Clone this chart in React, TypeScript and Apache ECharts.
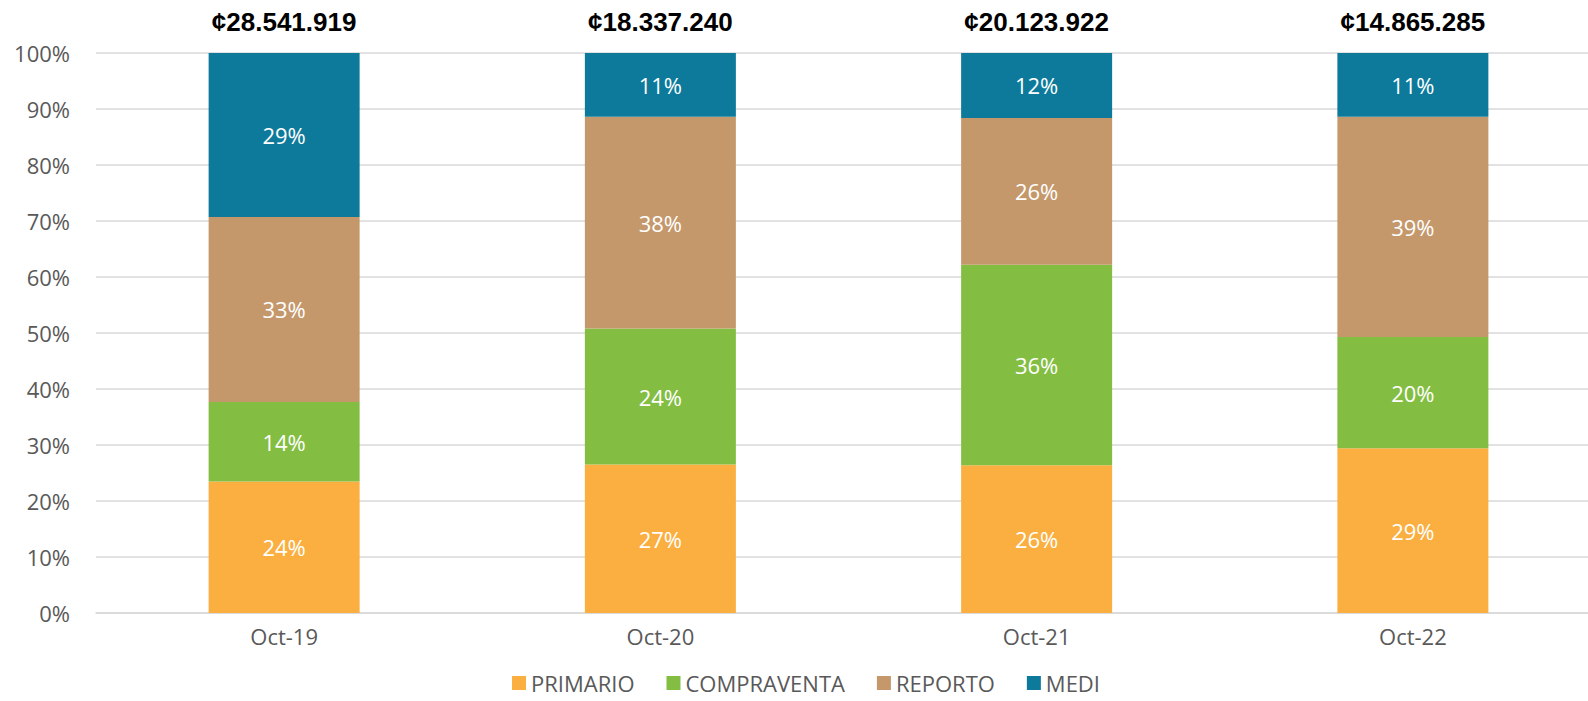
import React, { useEffect, useRef } from "react";
import * as echarts from "echarts";

const categories = ["Oct-19", "Oct-20", "Oct-21", "Oct-22"];
const totals = ["¢28.541.919", "¢18.337.240", "¢20.123.922", "¢14.865.285"];
const primario = [23.5, 26.5, 26.4, 29.4];
const compraventa = [14.2, 24.3, 35.8, 19.9];
const reporto = [33.0, 37.8, 26.2, 39.3];
const medi = [29.3, 11.4, 11.6, 11.4];
const yTicks = [0, 10, 20, 30, 40, 50, 60, 70, 80, 90, 100];

const FONT = "Open Sans";

export default function App() {
  const ref = useRef<HTMLDivElement>(null);
  useEffect(() => {
    if (!ref.current) return;
    const chart = echarts.init(ref.current, null, { renderer: "svg" });
    const mk = (name: string, data: number[], color: string) => ({
      name,
      type: "bar",
      stack: "total",
      data,
      barWidth: 151,
      itemStyle: { color },
      label: {
        show: true,
        position: "inside",
        color: "#ffffff",
        fontFamily: FONT,
        fontSize: 22,
        formatter: (p: any) => Math.round(p.value) + "%",
      },
    });
    chart.setOption({
      animation: false,
      grid: { left: 96, top: 53, width: 1505, bottom: 88, outerBoundsMode: "none" },
      legend: {
        top: 672,
        left: 512,
        padding: 0,
        itemWidth: 14,
        itemHeight: 14,
        itemGap: 32,
        icon: "rect",
        textStyle: { color: "#595959", fontFamily: FONT, fontSize: 22, lineHeight: 22 },
        data: ["PRIMARIO", "COMPRAVENTA", "REPORTO", "MEDI"],
      },
      xAxis: [
        {
          type: "category",
          data: categories,
          axisLine: { lineStyle: { color: "#d9d9d9", width: 1.5 } },
          axisTick: { show: false },
          axisLabel: { color: "#595959", fontFamily: FONT, fontSize: 22, margin: 12 },
        },
        {
          type: "category",
          position: "top",
          data: totals,
          axisLine: { show: false },
          axisTick: { show: false },
          axisLabel: {
            color: "#000000",
            fontFamily: "Liberation Sans",
            fontWeight: "bold",
            fontSize: 26,
            margin: 18,
          },
        },
      ],
      yAxis: {
        type: "value",
        min: 0,
        max: 100,
        interval: 10,
        axisLine: { show: false },
        axisTick: { show: false },
        splitLine: { lineStyle: { color: "#d9d9d9", width: 1.5 } },
        axisLabel: {
          color: "#595959",
          fontFamily: FONT,
          fontSize: 22,
          margin: 26,
          formatter: (v: number) => (yTicks.includes(v) ? v + "%" : ""),
        },
      },
      series: [
        mk("PRIMARIO", primario, "#FAAF40"),
        mk("COMPRAVENTA", compraventa, "#83BE43"),
        mk("REPORTO", reporto, "#C4986B"),
        mk("MEDI", medi, "#0D7A9B"),
      ],
    });
    return () => chart.dispose();
  }, []);
  return (
    <div
      ref={ref}
      style={{ position: "fixed", left: 0, top: 0, width: 1588, height: 701, background: "#fff" }}
    />
  );
}
